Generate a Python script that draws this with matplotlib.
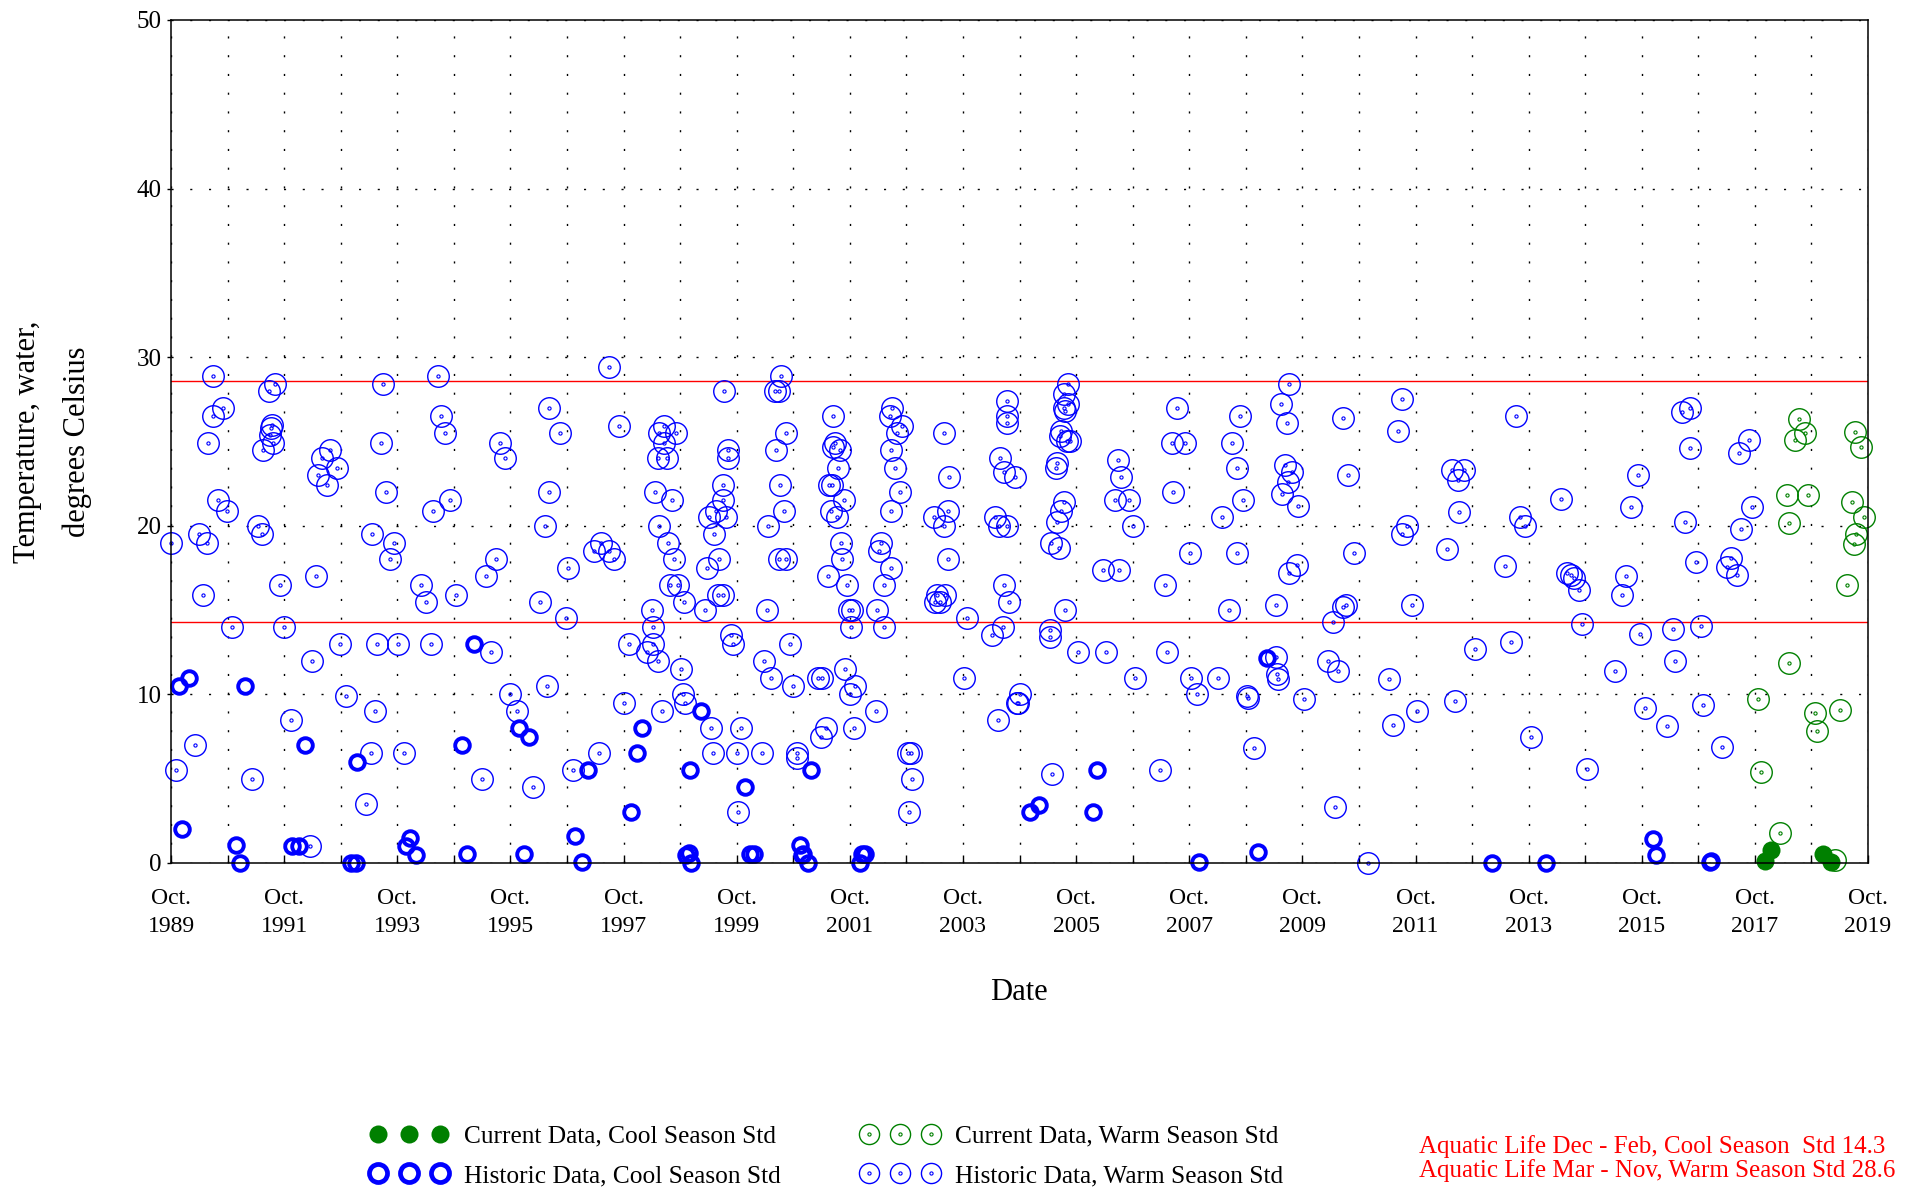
import matplotlib
matplotlib.use('Agg')
import matplotlib.pyplot as plt
from matplotlib.lines import Line2D
from matplotlib.legend_handler import HandlerTuple

plt.rcParams['font.family'] = ['Liberation Serif', 'DejaVu Serif']

# dates as decimal years, temperatures in degrees C
hist_warm_dates = [
    1990.49, 1991.58, 1991.49, 1993.49, 1994.47, 1990.67, 1990.49, 1990.41,
    1991.54, 1991.52, 1991.50, 1991.55, 1991.37, 1992.56, 1992.42, 1992.69, 1992.34, 1992.51,
    1993.46, 1993.55, 1994.53, 1994.60, 1990.58, 1990.74, 1990.24, 1990.39, 1989.75,
    1991.29, 1991.35, 1993.30, 1993.70, 1993.62, 1994.38, 1994.68,
    1990.32, 1991.67, 1992.31, 1994.17, 1994.25, 1990.83, 1991.74, 1992.73, 1993.40, 1993.77, 1994.35,
    1992.25, 1992.85, 1993.35, 1991.87, 1990.18, 1993.28, 1993.86, 1989.83, 1991.19, 1993.19, 1992.20,
    1997.50, 1999.53, 1996.44, 1997.67, 1996.63, 1995.56, 1995.65,
    1998.47, 1998.38, 1998.67, 1998.47, 1998.35, 1998.51, 1999.59, 1999.59,
    1996.44, 1998.30, 1998.60, 1999.50, 1999.50, 1999.38, 1999.26, 1999.56, 1999.35,
    1996.37, 1998.38, 1998.54, 1998.64, 1999.23, 1999.44, 1997.35, 1997.49, 1997.23, 1997.58,
    1995.49, 1995.32, 1996.76, 1994.79, 1996.28, 1996.73, 1998.57, 1998.72, 1998.82, 1999.19,
    1999.42, 1999.50, 1998.26, 1998.27, 1997.85, 1998.27, 1998.17, 1998.35, 1998.76,
    1999.65, 1995.40, 1996.40, 1995.74, 1995.86, 1997.76, 1998.43, 1998.80, 1998.84, 1999.30,
    1999.33, 1997.32, 1996.86, 1995.25, 1996.15,
    2000.53, 2000.43, 2000.49, 2001.46, 2000.63, 2000.44, 2001.49, 2001.58, 2001.46, 2001.54,
    2000.52, 2001.38, 2001.43, 2001.64, 2000.58, 2001.42, 2001.52, 2000.30,
    2002.46, 2002.50, 2002.67, 2002.58, 2002.48, 2002.55, 2002.64, 2002.48,
    2003.41, 2003.50, 2003.48, 2003.23, 2003.41, 2004.53, 2004.53, 2004.53, 2004.41, 2004.47,
    2004.32, 2004.39, 2004.53, 2000.49, 2000.62, 2001.60, 2001.61, 2001.37, 2001.70,
    2002.30, 2002.27, 2002.48, 2002.36, 2003.48, 2004.47, 2004.56, 2000.28, 2001.73, 2001.79,
    2002.23, 2001.77, 2002.35, 2003.29, 2003.35, 2003.44, 2003.26, 2003.82, 2004.26, 2004.45,
    1999.69, 2000.69, 2000.24, 2000.36, 2000.74, 2001.18, 2001.25, 2001.67, 2001.84, 2001.76,
    2002.21, 2003.77, 1999.83, 1999.75, 2000.19, 2000.81, 2000.81, 2001.33, 2001.24, 2001.83,
    2002.78, 2002.84, 2002.85, 2002.80, 1999.78, 2004.37,
    2005.60, 2005.53, 2005.60, 2005.56, 2005.53, 2005.49, 2005.59, 2005.47, 2005.65, 2005.41,
    2005.39, 2004.67, 2006.49, 2006.55, 2006.44, 2006.69, 2006.76, 2005.53, 2005.49, 2005.41,
    2005.31, 2005.44, 2005.56, 2005.29, 2005.29, 2006.23, 2006.50, 2005.78, 2006.27, 2006.79,
    2004.76, 2004.70, 2004.73, 2005.33, 2007.53, 2007.44, 2007.68, 2007.46, 2007.76, 2007.33,
    2008.33, 2008.46, 2007.36, 2007.78, 2007.89, 2008.25, 2007.24, 2008.64, 2008.51, 2008.60,
    2008.70, 2008.60, 2008.77, 2008.79, 2008.89,
    2009.38, 2009.48, 2009.51, 2009.45, 2009.56, 2009.50, 2009.39, 2009.67, 2009.65, 2009.52,
    2009.29, 2009.28, 2009.30, 2009.32, 2009.77,
    2011.52, 2010.46, 2011.44, 2013.53, 2010.55, 2012.39, 2012.60, 2012.50, 2012.52, 2014.33,
    2011.60, 2011.51, 2012.30, 2013.60, 2013.69, 2010.67, 2013.34, 2010.52, 2010.46, 2010.29,
    2011.69, 2012.80, 2013.43, 2010.21, 2010.38, 2011.28, 2011.77, 2011.35, 2012.44, 2013.80,
    2010.32, 2010.91,
    2014.42, 2014.50, 2014.55, 2014.64, 2014.70, 2014.79, 2016.46, 2016.61, 2016.60, 2017.64,
    2017.46, 2015.68, 2015.56, 2016.51, 2017.69, 2017.51, 2015.47, 2015.40, 2016.70, 2017.33,
    2017.26, 2017.43, 2015.72, 2016.30, 2016.80, 2015.27, 2016.33, 2015.81, 2016.83, 2016.20,
    2017.17,
]
hist_warm_temp = [
    28.9, 28.4, 28.0, 28.4, 28.9, 27.0, 26.5, 24.9,
    26.0, 25.8, 25.4, 24.9, 24.5, 24.5, 24.0, 23.4, 23.0, 22.4,
    24.9, 22.0, 26.5, 25.5, 21.5, 20.9, 19.5, 19.0, 19.0,
    20.0, 19.5, 19.5, 19.0, 18.0, 20.9, 21.5,
    15.9, 16.5, 17.0, 16.5, 15.5, 14.0, 14.0, 13.0, 13.0, 13.0, 13.0,
    12.0, 9.9, 9.0, 8.45, 7.0, 6.5, 6.5, 5.5, 5.0, 3.5, 1.0,
    29.4, 28.0, 27.0, 25.9, 25.5, 24.9, 24.0,
    25.9, 25.5, 25.5, 24.9, 24.0, 24.0, 24.5, 24.0,
    22.0, 22.0, 21.5, 22.4, 21.5, 20.9, 20.5, 20.5, 19.5,
    20.0, 20.0, 19.0, 18.0, 17.5, 18.0, 19.0, 18.5, 18.5, 18.0,
    18.0, 17.0, 17.5, 15.9, 15.5, 14.5, 16.5, 16.5, 15.5, 15.0,
    15.9, 15.9, 15.0, 14.0, 13.0, 13.0, 12.5, 12.0, 11.5,
    13.5, 12.5, 10.5, 10.0, 9.0, 9.5, 9.0, 10.0, 9.5, 8.0,
    6.5, 6.5, 5.5, 5.0, 4.5,
    28.9, 28.0, 28.0, 26.5, 25.5, 24.5, 24.9, 24.5, 24.7, 23.4,
    22.4, 22.4, 22.4, 21.5, 20.9, 20.9, 20.5, 20.0,
    26.5, 27.0, 25.9, 25.5, 24.5, 23.4, 22.0, 20.9,
    25.5, 22.9, 20.9, 20.5, 20.0, 27.4, 26.5, 26.1, 24.0, 23.2,
    20.5, 20.0, 20.0, 18.0, 18.0, 19.0, 18.0, 17.0, 16.5,
    19.0, 18.5, 17.5, 16.5, 18.0, 16.5, 15.5, 15.0, 15.0, 15.0,
    15.0, 14.0, 14.0, 15.9, 15.5, 15.9, 15.5, 14.5, 13.5, 14.0,
    13.0, 13.0, 12.0, 11.0, 10.5, 11.0, 11.0, 11.5, 10.5, 10.0,
    9.0, 11.0, 8.0, 6.5, 6.5, 6.5, 6.25, 8.0, 7.5, 8.0,
    6.5, 6.5, 5.0, 3.0, 3.0, 8.45,
    28.4, 27.8, 27.2, 26.8, 27.0, 25.6, 25.0, 25.3, 25.0, 23.75,
    23.4, 22.9, 23.9, 22.9, 21.5, 21.5, 20.0, 21.4, 20.9, 20.2,
    19.0, 18.7, 15.0, 13.8, 13.4, 17.4, 17.4, 12.5, 12.5, 11.0,
    10.0, 9.5, 9.5, 5.3, 27.0, 24.9, 24.9, 22.0, 18.4, 16.5,
    20.5, 15.0, 12.5, 11.0, 10.0, 11.0, 5.5, 26.5, 24.9, 23.4,
    21.5, 18.4, 9.9, 9.8, 6.8,
    27.2, 26.1, 28.4, 23.6, 23.2, 22.6, 21.9, 21.2, 17.65, 17.2,
    15.3, 12.2, 11.2, 10.9, 9.7,
    27.5, 26.4, 25.6, 26.5, 23.0, 23.3, 23.3, 22.7, 20.8, 21.6,
    20.0, 19.5, 18.6, 20.5, 20.0, 18.4, 17.6, 15.3, 15.2, 14.3,
    15.3, 12.7, 13.1, 12.0, 11.4, 10.9, 9.0, 8.2, 9.6, 7.5,
    3.3, 0.0,
    17.2, 17.1, 16.9, 16.2, 14.2, 5.6, 26.75, 27.0, 24.6, 25.1,
    24.3, 23.0, 21.1, 20.2, 21.1, 19.8, 17.0, 15.9, 17.85, 18.1,
    17.55, 17.1, 13.6, 13.9, 14.05, 11.4, 12.0, 9.2, 9.35, 8.1,
    6.9,
]

hist_cool_dates = [
    1990.06, 1989.89, 1991.06, 1992.12, 1993.03, 1989.95, 1990.89, 1990.97, 1991.88, 1992.01,
    1992.93, 1993.02, 1993.98, 1993.90, 1994.08,
    1995.10, 1994.89, 1995.91, 1996.08, 1998.07, 1997.98, 1997.13, 1999.12, 1998.93, 1997.88,
    1996.89, 1994.99, 1995.99, 1997.02, 1998.85, 1998.90, 1998.95,
    1999.89, 2001.07, 1999.99, 2000.05, 2000.87, 2000.93, 2001.01, 2000.90, 2001.96, 2001.93, 2002.02,
    2006.12, 2005.09, 2004.94, 2006.04, 2007.92, 2008.97, 2009.12,
    2013.11, 2014.06, 2015.94, 2016.00, 2016.95, 2016.98,
]
hist_cool_temp = [
    11.0, 10.5, 10.5, 7.0, 6.0, 2.0, 1.06, 0.0, 1.0, 1.0,
    0.0, 0.0, 1.5, 1.0, 0.5,
    13.0, 7.0, 8.0, 7.5, 8.0, 6.55, 5.5, 9.0, 5.5, 3.05,
    1.57, 0.55, 0.55, 0.05, 0.5, 0.6, 0.0,
    4.5, 5.5, 0.55, 0.55, 1.06, 0.55, 0.0, 0.5, 0.55, 0.0, 0.55,
    5.5, 3.45, 3.05, 3.05, 0.04, 0.65, 12.15,
    0.0, 0.0, 1.4, 0.5, 0.04, 0.1,
]

cur_warm_dates = [
    2018.53, 2018.64, 2018.46, 2019.52, 2019.63, 2018.32, 2018.69, 2018.35, 2019.46, 2019.68,
    2019.53, 2019.50, 2019.37, 2018.36, 2017.81, 2018.81, 2018.85, 2019.25, 2017.85, 2018.19,
    2019.17,
]
cur_warm_temp = [
    26.35, 25.5, 25.1, 25.55, 24.7, 21.8, 21.8, 20.15, 21.4, 20.5,
    19.5, 18.9, 16.5, 11.85, 9.7, 8.9, 7.8, 9.05, 5.4, 1.8,
    0.15,
]

cur_cool_dates = [2018.04, 2017.92, 2018.95, 2019.09]
cur_cool_temp = [0.75, 0.1, 0.55, 0.05]

cool_std = 14.3
warm_std = 28.6

tick_years = list(range(1989, 2020, 2))
tick_pos = [y + 0.75 for y in tick_years]
tick_labels = ['Oct.\n%d' % y for y in tick_years]
minor_pos = [y + 0.75 for y in range(1990, 2019, 2)]

BLUE = '#0000ff'
GREEN = '#008000'

fig = plt.figure(figsize=(19.13, 11.88), dpi=100)
ax = fig.add_axes([0.0894, 0.2736, 0.8871, 0.7096])

dots = (0, (1.5, 12))
ax.set_xticks(tick_pos)
ax.set_xticks(minor_pos, minor=True)
ax.set_xticklabels(tick_labels, linespacing=1.45)
ax.set_yticks([0, 10, 20, 30, 40, 50])
ax.grid(True, which='both', axis='x', color='black', lw=1.0, linestyle=dots)
ax.grid(True, which='major', axis='y', color='black', lw=1.0, linestyle=dots)
ax.set_axisbelow(True)

ax.axhline(warm_std, color='red', lw=1.0, zorder=1.5)
ax.axhline(cool_std, color='red', lw=1.0, zorder=1.5)

ax.plot(hist_warm_dates, hist_warm_temp, 'o', ms=15.5, mfc='none', mec=BLUE, mew=1.0, clip_on=False)
ax.plot(hist_warm_dates, hist_warm_temp, 'o', ms=2.3, mfc='none', mec=BLUE, mew=0.8, clip_on=False)
ax.plot(hist_cool_dates, hist_cool_temp, 'o', ms=10.5, mfc='none', mec=BLUE, mew=2.8, clip_on=False)
ax.plot(cur_warm_dates, cur_warm_temp, 'o', ms=15.5, mfc='none', mec=GREEN, mew=1.0, clip_on=False)
ax.plot(cur_warm_dates, cur_warm_temp, 'o', ms=2.3, mfc='none', mec=GREEN, mew=0.8, clip_on=False)
ax.plot(cur_cool_dates, cur_cool_temp, 'o', ms=13, mfc=GREEN, mec=GREEN, mew=0, clip_on=False)

ax.set_xlim(1989.75, 2019.75)
ax.set_ylim(0, 50)
for s in ax.spines.values():
    s.set_linewidth(1.1)
ax.tick_params(axis='x', which='both', direction='in', length=6, width=1, labelsize=17, pad=18)
ax.tick_params(axis='y', direction='out', length=3, width=1, labelsize=18, pad=3.5)

fig.text(1019 / 1913, 1 - 993 / 1188, 'Date', ha='center', va='center', fontsize=22)
fig.text(28 / 1913, 1 - 442 / 1188, 'Temperature, water,', rotation=90, ha='center', va='center', fontsize=22)
fig.text(77 / 1913, 1 - 442 / 1188, 'degrees Celsius', rotation=90, ha='center', va='center', fontsize=22)

# legend
h_cc = Line2D([], [], ls='none', marker='o', ms=13, mfc=GREEN, mec=GREEN, mew=0)
h_hc = Line2D([], [], ls='none', marker='o', ms=13, mfc='none', mec=BLUE, mew=3.4)
h_cw = (Line2D([], [], ls='none', marker='o', ms=14.5, mfc='none', mec=GREEN, mew=1.0),
        Line2D([], [], ls='none', marker='o', ms=2.3, mfc='none', mec=GREEN, mew=0.8))
h_hw = (Line2D([], [], ls='none', marker='o', ms=14.5, mfc='none', mec=BLUE, mew=1.0),
        Line2D([], [], ls='none', marker='o', ms=2.3, mfc='none', mec=BLUE, mew=0.8))
fig.legend([h_cc, h_hc, h_cw, h_hw],
           ['Current Data, Cool Season Std', 'Historic Data, Cool Season Std',
            'Current Data, Warm Season Std', 'Historic Data, Warm Season Std'],
           loc='upper left', bbox_to_anchor=(0.1937, 0.053), ncol=2, numpoints=3,
           frameon=False, fontsize=18.3, handlelength=3.03, handletextpad=0.65,
           columnspacing=3.17, labelspacing=0.65, borderpad=0, borderaxespad=0,
           handler_map={tuple: HandlerTuple(ndivide=1)})

fig.text(1419 / 1913, 1 - 1146.5 / 1188, 'Aquatic Life Dec - Feb, Cool Season  Std %.1f' % cool_std,
         color='red', fontsize=18, va='center')
fig.text(1419 / 1913, 1 - 1170.5 / 1188, 'Aquatic Life Mar - Nov, Warm Season Std %.1f' % warm_std,
         color='red', fontsize=18, va='center')

fig.savefig('out.png', dpi=100)
